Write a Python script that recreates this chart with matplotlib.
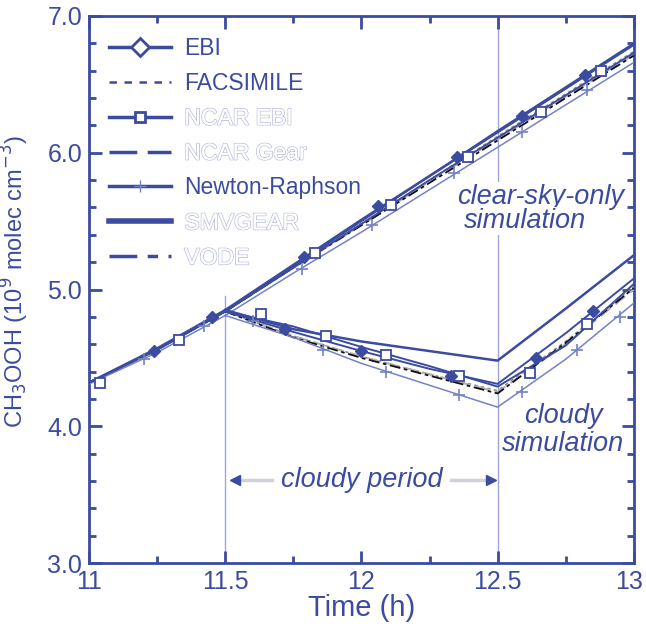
import numpy as np
import matplotlib
matplotlib.use("Agg")
import matplotlib.pyplot as plt
from matplotlib.lines import Line2D
import matplotlib.patheffects as pe
import matplotlib.transforms as mtransforms

plt.rcParams['font.family'] = ['Liberation Sans', 'DejaVu Sans']

# ---------------- data ----------------
t_pre = [11.0, 11.25, 11.5]
t_after = [11.5, 11.75, 12.0, 12.25, 12.5, 12.75, 13.0]

# shared part before the cloudy period
ebi_pre = [4.32, 4.56, 4.84]
facs_pre = [4.32, 4.56, 4.84]
ncarebi_pre = [4.32, 4.56, 4.84]
ncargear_pre = [4.32, 4.56, 4.84]
nr_pre = [4.31, 4.54, 4.81]
smv_pre = [4.32, 4.57, 4.85]
vode_pre = [4.32, 4.56, 4.84]

# clear-sky-only simulation
ebi_clear = [4.84, 5.17, 5.50, 5.83, 6.16, 6.48, 6.80]
facs_clear = [4.84, 5.16, 5.48, 5.80, 6.12, 6.43, 6.74]
ncarebi_clear = [4.84, 5.16, 5.48, 5.80, 6.11, 6.42, 6.73]
ncargear_clear = [4.84, 5.16, 5.47, 5.79, 6.10, 6.41, 6.72]
nr_clear = [4.81, 5.12, 5.42, 5.73, 6.04, 6.35, 6.66]
smv_clear = [4.85, 5.18, 5.51, 5.83, 6.15, 6.47, 6.79]
vode_clear = [4.84, 5.16, 5.47, 5.78, 6.09, 6.40, 6.71]

# cloudy simulation
ebi_cloudy = [4.84, 4.69, 4.55, 4.42, 4.31, 4.68, 5.08]
facs_cloudy = [4.84, 4.66, 4.51, 4.38, 4.26, 4.62, 5.02]
ncarebi_cloudy = [4.84, 4.73, 4.58, 4.44, 4.29, 4.59, 5.04]
ncargear_cloudy = [4.84, 4.66, 4.51, 4.38, 4.25, 4.60, 5.00]
nr_cloudy = [4.81, 4.65, 4.46, 4.30, 4.14, 4.49, 4.90]
smv_cloudy = [4.85, 4.71, 4.62, 4.55, 4.48, 4.86, 5.25]
vode_cloudy = [4.84, 4.65, 4.50, 4.37, 4.24, 4.61, 5.01]

# marker positions
ebi_mk_t = [11.24, 11.45, 11.79, 12.06, 12.35, 12.59, 12.82, 11.72, 12.0, 12.33, 12.64, 12.85]
ebi_mk_v = [4.55, 4.80, 5.24, 5.61, 5.97, 6.27, 6.57, 4.71, 4.55, 4.37, 4.50, 4.84]
ncarebi_mk_t = [11.04, 11.33, 11.83, 12.11, 12.39, 12.66, 12.88, 11.63, 11.87, 12.09, 12.36, 12.62, 12.83]
ncarebi_mk_v = [4.32, 4.63, 5.27, 5.62, 5.97, 6.30, 6.60, 4.82, 4.66, 4.52, 4.37, 4.39, 4.75]
nr_mk_t = [11.20, 11.42, 11.78, 12.04, 12.34, 12.59, 12.83, 11.60, 11.86, 12.09, 12.36, 12.59, 12.79, 12.95]
nr_mk_v = [4.49, 4.73, 5.15, 5.47, 5.85, 6.15, 6.46, 4.77, 4.56, 4.40, 4.23, 4.25, 4.56, 4.80]

labels = ["EBI", "FACSIMILE", "NCAR EBI", "NCAR Gear", "Newton-Raphson", "SMVGEAR", "VODE"]
hollow_labels = ["NCAR EBI", "NCAR Gear", "SMVGEAR", "VODE"]

xticks = [11, 11.5, 12, 12.5, 13]
xtick_labels = ["11", "11.5", "12", "12.5", "13"]
yticks = [3.0, 4.0, 5.0, 6.0, 7.0]
ytick_labels = ["3.0", "4.0", "5.0", "6.0", "7.0"]

# ---------------- style ----------------
BLUE = '#3b4ba0'
LBLUE = '#7482c6'
VLINE = '#9ea6d8'

fig = plt.figure(figsize=(6.46, 6.27), dpi=100)
ax = fig.add_axes([0.138, 0.102, 0.843, 0.8725])

def draw(pre, clear, cloudy, **kw):
    ax.plot(t_pre, pre, **kw)
    ax.plot(t_after, clear, **kw)
    ax.plot(t_after, cloudy, **kw)

# vertical lines
ax.plot([11.5, 11.5], [3.0, 4.95], color=VLINE, lw=1.0, zorder=1)
ax.plot([12.5, 12.5], [3.0, 7.0], color=VLINE, lw=1.0, zorder=1)

draw(facs_pre, facs_clear, facs_cloudy, color='#8a8a8a', lw=1.2, ls=(0, (2, 2)), zorder=3)
draw(ncargear_pre, ncargear_clear, ncargear_cloudy, color='#b0b0b0', lw=1.5, ls=(0, (6, 3)), zorder=3)
draw(vode_pre, vode_clear, vode_cloudy, color='#111111', lw=1.3, ls=(0, (6, 2, 2, 2)), zorder=3)
draw(nr_pre, nr_clear, nr_cloudy, color=LBLUE, lw=1.1, zorder=4)
draw(ncarebi_pre, ncarebi_clear, ncarebi_cloudy, color=BLUE, lw=1.4, zorder=4)
draw(ebi_pre, ebi_clear, ebi_cloudy, color=BLUE, lw=1.4, zorder=4)
draw(smv_pre, smv_clear, smv_cloudy, color=BLUE, lw=1.8, zorder=4)

ax.plot(nr_mk_t, nr_mk_v, ls='none', marker='+', ms=9, mew=1.2, color=LBLUE, zorder=5)
ax.plot(ncarebi_mk_t, ncarebi_mk_v, ls='none', marker='s', ms=6.5, mew=1.3,
        mfc='white', mec=BLUE, zorder=5)
ax.plot(ebi_mk_t, ebi_mk_v, ls='none', marker='D', ms=6.5, mew=1.0,
        mfc=BLUE, mec=BLUE, zorder=6)

ax.set_xlim(11, 13)
ax.set_ylim(3.0, 7.0)
ax.set_xticks(xticks)
ax.set_xticklabels(xtick_labels)
ax.set_yticks(yticks)
ax.set_yticklabels(ytick_labels)
ax.set_xticks(np.arange(11, 13.01, 0.25), minor=True)
ax.set_yticks(np.arange(3.0, 7.01, 0.2), minor=True)
ax.tick_params(which='both', direction='in', color=BLUE, labelcolor=BLUE,
               top=True, right=True, width=2)
ax.tick_params(which='major', length=9, labelsize=18, pad=5)
ax.tick_params(which='minor', length=5)
for s in ax.spines.values():
    s.set_color(BLUE)
    s.set_linewidth(2)

# keep the last x tick label inside the figure
last = ax.get_xticklabels()[-1]
last.set_transform(last.get_transform() +
                   mtransforms.ScaledTranslation(-5 / 100, 0, fig.dpi_scale_trans))

ax.set_xlabel("Time (h)", fontsize=21, color=BLUE, labelpad=0)
ax.set_ylabel(r"CH$_3$OOH (10$^9$ molec cm$^{-3}$)", fontsize=17, color=BLUE)
ax.yaxis.set_label_coords(-0.106, 0.515)

# annotations
FS_ANN = 19.5
ax.text(12.66, 5.68, "clear-sky-only", fontsize=FS_ANN, style='italic',
        color=BLUE, ha='center', va='center', zorder=7,
        bbox=dict(facecolor='white', edgecolor='none', pad=1))
ax.text(12.60, 5.50, "simulation", fontsize=FS_ANN, style='italic',
        color=BLUE, ha='center', va='center', zorder=7,
        bbox=dict(facecolor='white', edgecolor='none', pad=1))
ax.text(12.74, 3.975, "cloudy\nsimulation", fontsize=FS_ANN, style='italic',
        color=BLUE, ha='center', va='center', linespacing=1.12, zorder=7)
ax.text(12.0, 3.61, "cloudy period", fontsize=FS_ANN, style='italic',
        color=BLUE, ha='center', va='center', zorder=7)
ax.plot([11.67, 11.55], [3.61, 3.61], color='#d0d1da', lw=2.5, zorder=6)
ax.plot([12.33, 12.46], [3.61, 3.61], color='#d0d1da', lw=2.5, zorder=6)
ax.plot([11.535], [3.61], marker='<', ms=7, color=BLUE, ls='none', zorder=7)
ax.plot([12.475], [3.61], marker='>', ms=7, color=BLUE, ls='none', zorder=7)

# legend
handles = [
    Line2D([], [], color=BLUE, lw=2.5, marker='D', ms=9, mfc='white', mec=BLUE, mew=2),
    Line2D([], [], color=BLUE, lw=1.8, ls=(0, (3, 3))),
    Line2D([], [], color=BLUE, lw=2.5, marker='s', ms=7, mfc='white', mec=BLUE, mew=2),
    Line2D([], [], color=BLUE, lw=2.5, ls=(0, (8, 3))),
    Line2D([], [], color=BLUE, lw=2.5, marker='+', ms=8, mec=LBLUE, mew=1),
    Line2D([], [], color=BLUE, lw=4),
    Line2D([], [], color=BLUE, lw=2.5, ls=(0, (8, 3, 3, 3))),
]
leg = ax.legend(handles, labels, loc='upper left', bbox_to_anchor=(0.036, 0.962),
                frameon=False, fontsize=16.5, numpoints=1, handlelength=2.7,
                handletextpad=0.6, labelspacing=0.52, borderpad=0, borderaxespad=0)
for txt in leg.get_texts():
    if txt.get_text() in hollow_labels:
        txt.set_color('white')
        txt.set_path_effects([pe.withStroke(linewidth=1.2, foreground='#b8bcdc'), pe.Normal()])
    else:
        txt.set_color(BLUE)

fig.savefig("out.png", dpi=100)
